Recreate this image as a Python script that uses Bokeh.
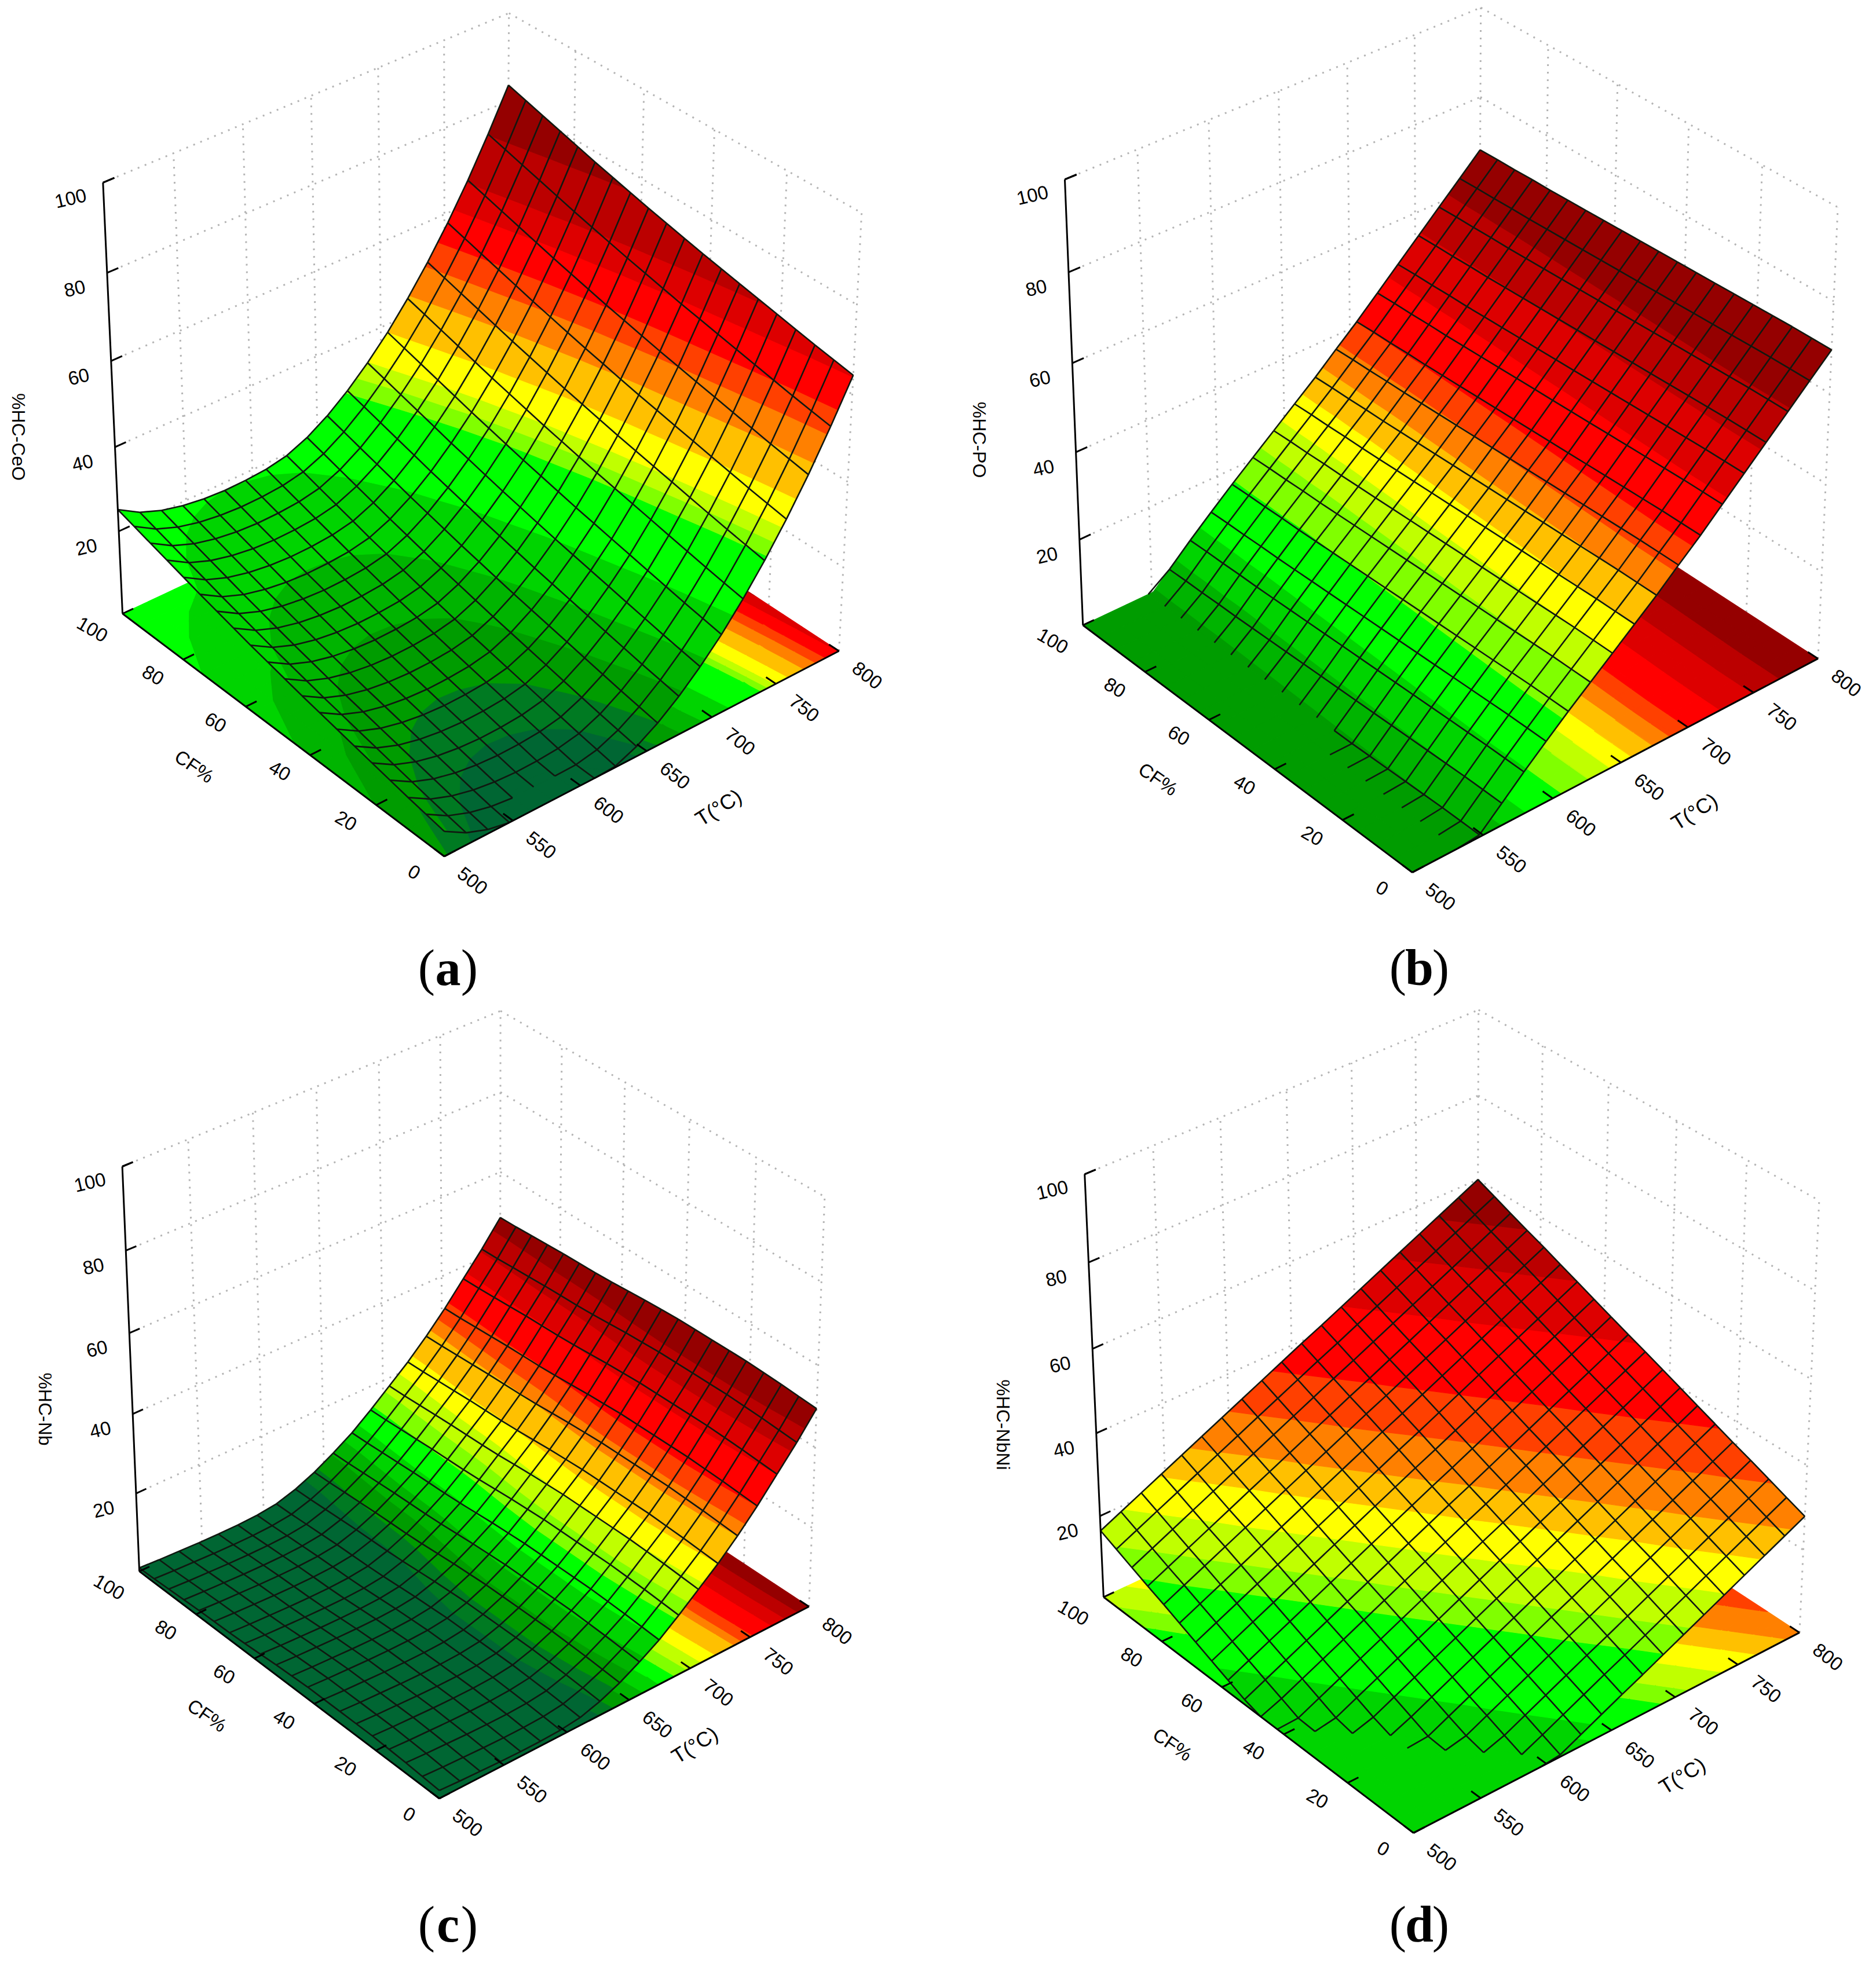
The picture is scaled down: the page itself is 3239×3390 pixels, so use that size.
import numpy as np
from bokeh.plotting import figure
from bokeh.models import Range1d, ColumnDataSource
from bokeh.core.properties import value
from bokeh.embed import file_html
from bokeh.resources import INLINE

# ---- axis values
T_TICKS = [500, 550, 600, 650, 700, 750, 800]
CF_TICKS = [0, 20, 40, 60, 80, 100]
Z_TICKS = [20, 40, 60, 80, 100]

# ---- mesh lines of the surfaces
T_NODES = [500, 515.8, 531.6, 547.4, 563.2, 578.9, 594.7, 610.5, 626.3, 642.1,
           657.9, 673.7, 689.5, 705.3, 721.1, 736.8, 752.6, 768.4, 784.2, 800]
CF_NODES = [0, 5.3, 10.5, 15.8, 21.1, 26.3, 31.6, 36.8, 42.1, 47.4,
            52.6, 57.9, 63.2, 68.4, 73.7, 78.9, 84.2, 89.5, 94.7, 100]

# ---- surface heights: along T at CF=0, and the change along CF
Z_T_A = [5.9, 2.9, 1.0, -0.2, -0.9, -1.2, -1.1, -0.7, 0.3, 2.4,
         5.4, 9.2, 13.7, 18.8, 24.7, 31.2, 38.4, 46.3, 55.0, 64.3]
Z_CF_A = [0, 0.8, 1.6, 2.5, 3.4, 4.3, 5.2, 6.1, 7.0, 8.0,
          9.0, 10.0, 11.1, 12.2, 13.3, 14.5, 15.7, 16.9, 18.1, 19.3]
Z_T_B = [-10, -7, -3, 0.5, 5, 9.5, 13.8, 18, 22, 26,
         30, 34, 38.3, 42.5, 47, 51.5, 56, 60.5, 65, 69.5]
Z_CF_B = [0, 0, 0, -0.1, -0.2, -0.3, -0.4, -0.5, -0.6, -0.7,
          -0.8, -0.9, -1.0, -1.1, -1.2, -1.3, -1.3, -1.4, -1.4, -1.5]
Z_T_C = [2, 1.7, 1.5, 1.3, 1.2, 1.2, 1.4, 2, 3.5, 5.6,
         8.3, 11.3, 15, 19, 23, 27.5, 32.5, 38, 43.5, 49.5]
Z_CF_C = [0, 0.3, 0.6, 0.8, 1, 1, 1, 1, 1, 0.8,
          0.6, 0.3, 0, -0.2, -0.3, -0.4, -0.6, -0.8, -1.0, -1.1]
Z_T_D = [-15.6, -13.3, -11, -8.7, -6.4, -4.1, -1.8, 0.5, 2.8, 5.1,
         7.4, 9.6, 11.9, 14.2, 16.5, 18.8, 21.1, 23.4, 25.7, 28]
Z_CF_D = [0, 1.7, 3.4, 5.1, 6.7, 8.4, 10.1, 11.8, 13.5, 15.2,
          16.8, 18.5, 20.2, 21.9, 23.6, 25.3, 26.9, 28.6, 30.3, 32]

# ---- colour bands: upper limit of each colour except the last, per panel
BAND_COLORS = ["#006633", "#007a22", "#009c00", "#00b400", "#00d400", "#00ff00",
               "#80ff00", "#c0ff00", "#ffff00", "#ffc000", "#ff8000", "#ff4000",
               "#ff0000", "#dd0000", "#bb0000", "#950000"]
EDGES_A = [2.5, 5.5, 10, 15, 22, 32, 34.4, 37, 42, 48.4, 53.6, 58, 64, 69, 78]
EDGES_B = [-100, -99, 0.5, 5, 10, 17, 22, 26, 30, 34, 37.5, 41, 48, 55, 61]
EDGES_C = [3.5, 5, 7, 9, 11.5, 14.5, 17, 20, 23, 27.5, 29.5, 32.5, 38, 42, 46]
EDGES_D = [-100, -99, -98, -97, 4, 12, 15, 19, 23, 26.5, 31, 36, 44, 50, 55]
COLOR_CF_WEIGHT = [1.2, 1.0, 1.0, 1.0]

TITLES = ["%HC-CeO", "%HC-PO", "%HC-Nb", "%HC-NbNi"]
LETTERS = ["a", "b", "c", "d"]
CF_TITLE = "CF%"
T_TITLE = "T(°C)"

# ---- layout: pixel position of box corners (near, right, left, back floor, left top, back top, right top)
CORNERS = [
    [(774, 1481), (1453, 1139), (219, 1076), (885, 745), (186, 319), (882, 36), (1499, 373)],
    [(2445, 1508), (3144, 1153), (1878, 1097), (2563, 753), (1846, 313), (2561, 27), (3184, 363)],
    [(768, 3107), (1398, 2793), (246, 2730), (877, 2417), (219, 2019), (867, 1761), (1436, 2069)],
    [(2448, 3166), (3112, 2837), (1914, 2776), (2559, 2449), (1879, 2031), (2559, 1759), (3151, 2077)],
]
WORLD = [(0, 0, 0), (1, 0, 0), (0, 1, 0), (1, 1, 0), (0, 1, 1), (1, 1, 1), (1, 0, 1)]
TITLE_POS = [(39, 762), (1698, 767), (85, 2441), (1739, 2468)]
CF_POS = [(343, 1331), (2007, 1353), (365, 2970), (2032, 3020)]
T_POS = [(1248, 1402), (2933, 1409), (1207, 3021), (2912, 3074)]
CAP_POS = [(781, 1679), (2458, 1679), (781, 3331), (2458, 3331)]


def camera(corners):
    rows, rhs = [], []
    for (u, v, w), (x, y) in zip(WORLD, corners):
        rows.append([u, v, w, 1, 0, 0, 0, 0, -x * u, -x * v, -x * w])
        rhs.append(x)
        rows.append([0, 0, 0, 0, u, v, w, 1, -y * u, -y * v, -y * w])
        rhs.append(y)
    m = np.linalg.lstsq(np.array(rows, float), np.array(rhs, float), rcond=None)[0]
    return np.append(m, 1).reshape(3, 4)


def project(P, t, cf, z):
    h = P @ np.array([(t - 500) / 300.0, cf / 100.0, z / 100.0, 1.0])
    return h[0] / h[2], h[1] / h[2]


def clip(poly, key, limit, keep_above):
    """Clip a polygon of (t, cf, colour, z) vertices against one value of entry `key`."""
    out = []
    n = len(poly)
    for i in range(n):
        a, b = poly[i], poly[(i + 1) % n]
        ina = a[key] >= limit if keep_above else a[key] <= limit
        inb = b[key] >= limit if keep_above else b[key] <= limit
        if ina:
            out.append(a)
        if ina != inb:
            f = (limit - a[key]) / (b[key] - a[key])
            out.append(tuple(a[m] + f * (b[m] - a[m]) for m in range(4)))
    return out


p = figure(width=3223, height=3374, x_range=Range1d(8, 3231), y_range=Range1d(3382, 8),
           output_backend="svg", toolbar_location=None, min_border=0)
p.axis.visible = False
p.grid.visible = False
p.outline_line_color = None
p.background_fill_color = "white"

SANS = value("Liberation Sans")
SERIF = value("Liberation Serif")
LABEL = dict(text_font=SANS, text_align="center", text_baseline="middle", text_color="black")


def panel(idx, z_t, z_cf, edges):
    P = camera(CORNERS[idx])
    pr = lambda t, cf, z: project(P, t, cf, z)
    weight = COLOR_CF_WEIGHT[idx]

    # back-wall dotted grid
    gx, gy = [], []
    def seg(a, b):
        xa, ya = pr(*a)
        xb, yb = pr(*b)
        gx.append([xa, xb])
        gy.append([ya, yb])
    for z in Z_TICKS:
        seg((500, 100, z), (800, 100, z))
        seg((800, 100, z), (800, 0, z))
    for t in T_TICKS[1:]:
        seg((t, 100, 0), (t, 100, 100))
    for cf in CF_TICKS:
        if cf < 100:
            seg((800, cf, 0), (800, cf, 100))
    p.multi_line(gx, gy, line_color="#b4b4b4", line_width=3, line_dash=value([3, 10]))

    bounds = [-1e9] + list(edges) + [1e9]
    for floor in (True, False):
        xs, ys, cols = [], [], []
        for i in range(len(T_NODES) - 2, -1, -1):
            for j in range(len(CF_NODES) - 2, -1, -1):
                quad = [(T_NODES[a], CF_NODES[b], z_t[a] + weight * z_cf[b], z_t[a] + z_cf[b])
                        for a, b in ((i, j), (i + 1, j), (i + 1, j + 1), (i, j + 1))]
                if not floor:
                    quad = clip(quad, 3, 0.0, True)
                    if len(quad) < 3:
                        continue
                for k, col in enumerate(BAND_COLORS):
                    lo, hi = bounds[k], bounds[k + 1]
                    pg = clip(quad, 2, lo, True)
                    if len(pg) >= 3:
                        pg = clip(pg, 2, hi, False)
                    if len(pg) < 3:
                        continue
                    pts = [pr(q[0], q[1], 0 if floor else q[3]) for q in pg]
                    xs.append([q[0] for q in pts])
                    ys.append([q[1] for q in pts])
                    cols.append(col)
        p.patches("xs", "ys", fill_color="c", line_color="c", line_width=1.2,
                  source=ColumnDataSource(dict(xs=xs, ys=ys, c=cols)))

    # mesh
    mx, my = [], []
    def mesh(i, j, k, l):
        za, zb = z_t[i] + z_cf[j], z_t[k] + z_cf[l]
        if za < 0 and zb < 0:
            return
        xa, ya = pr(T_NODES[i], CF_NODES[j], max(za, 0))
        xb, yb = pr(T_NODES[k], CF_NODES[l], max(zb, 0))
        mx.append([xa, xb])
        my.append([ya, yb])
    for i in range(len(T_NODES)):
        for j in range(len(CF_NODES)):
            if i + 1 < len(T_NODES):
                mesh(i, j, i + 1, j)
            if j + 1 < len(CF_NODES):
                mesh(i, j, i, j + 1)
    p.multi_line(mx, my, line_color="#101810", line_width=2.6)

    # axes and ticks
    ax, ay = [], []
    def axis_line(a, b):
        xa, ya = pr(*a)
        xb, yb = pr(*b)
        ax.append([xa, xb])
        ay.append([ya, yb])
    axis_line((500, 0, 0), (800, 0, 0))
    axis_line((500, 0, 0), (500, 100, 0))
    axis_line((500, 100, 0), (500, 100, 100))
    axis_line((500, 100, 100), (508, 100, 100))
    for t in T_TICKS:
        axis_line((t, 0, 0), (t, 2.8, 0))
    for cf in CF_TICKS:
        axis_line((500, cf, 0), (508, cf, 0))
    for z in Z_TICKS:
        axis_line((500, 100, z), (508, 100, z))
    p.multi_line(ax, ay, line_color="black", line_width=3)

    # tick labels
    tx = [pr(t, 0, 0) for t in T_TICKS]
    p.text([q[0] + 49 for q in tx], [q[1] + 42 for q in tx], text=[str(t) for t in T_TICKS],
           angle=-38, angle_units="deg", text_font_size="33px", **LABEL)
    cx = [pr(500, cf, 0) for cf in CF_TICKS]
    p.text([q[0] - 52 for q in cx], [q[1] + 27 for q in cx], text=[str(c) for c in CF_TICKS],
           angle=-30, angle_units="deg", text_font_size="33px", **LABEL)
    zx = [pr(500, 100, z) for z in Z_TICKS]
    p.text([q[0] - 56 for q in zx], [q[1] + 27 for q in zx], text=[str(z) for z in Z_TICKS],
           angle=13, angle_units="deg", text_font_size="33px", **LABEL)

    # axis titles
    p.text([TITLE_POS[idx][0]], [TITLE_POS[idx][1]], text=[TITLES[idx]], angle=-90, angle_units="deg",
           text_font_size="32px", **LABEL)
    p.text([CF_POS[idx][0]], [CF_POS[idx][1]], text=[CF_TITLE], angle=-35, angle_units="deg",
           text_font_size="33px", **LABEL)
    p.text([T_POS[idx][0]], [T_POS[idx][1]], text=[T_TITLE], angle=32, angle_units="deg",
           text_font_size="36px", **LABEL)

    # caption
    cx0, cy0 = CAP_POS[idx]
    p.text([cx0 - 37, cx0 + 37], [cy0, cy0], text=["(", ")"], text_font=SERIF,
           text_font_size="88px", text_align="center", text_baseline="middle", text_color="black")
    p.text([cx0], [cy0], text=[LETTERS[idx]], text_font=SERIF, text_font_style="bold",
           text_font_size="88px", text_align="center", text_baseline="middle", text_color="black")


panel(0, Z_T_A, Z_CF_A, EDGES_A)
panel(1, Z_T_B, Z_CF_B, EDGES_B)
panel(2, Z_T_C, Z_CF_C, EDGES_C)
panel(3, Z_T_D, Z_CF_D, EDGES_D)

open("out.html", "w").write(file_html(p, INLINE))
